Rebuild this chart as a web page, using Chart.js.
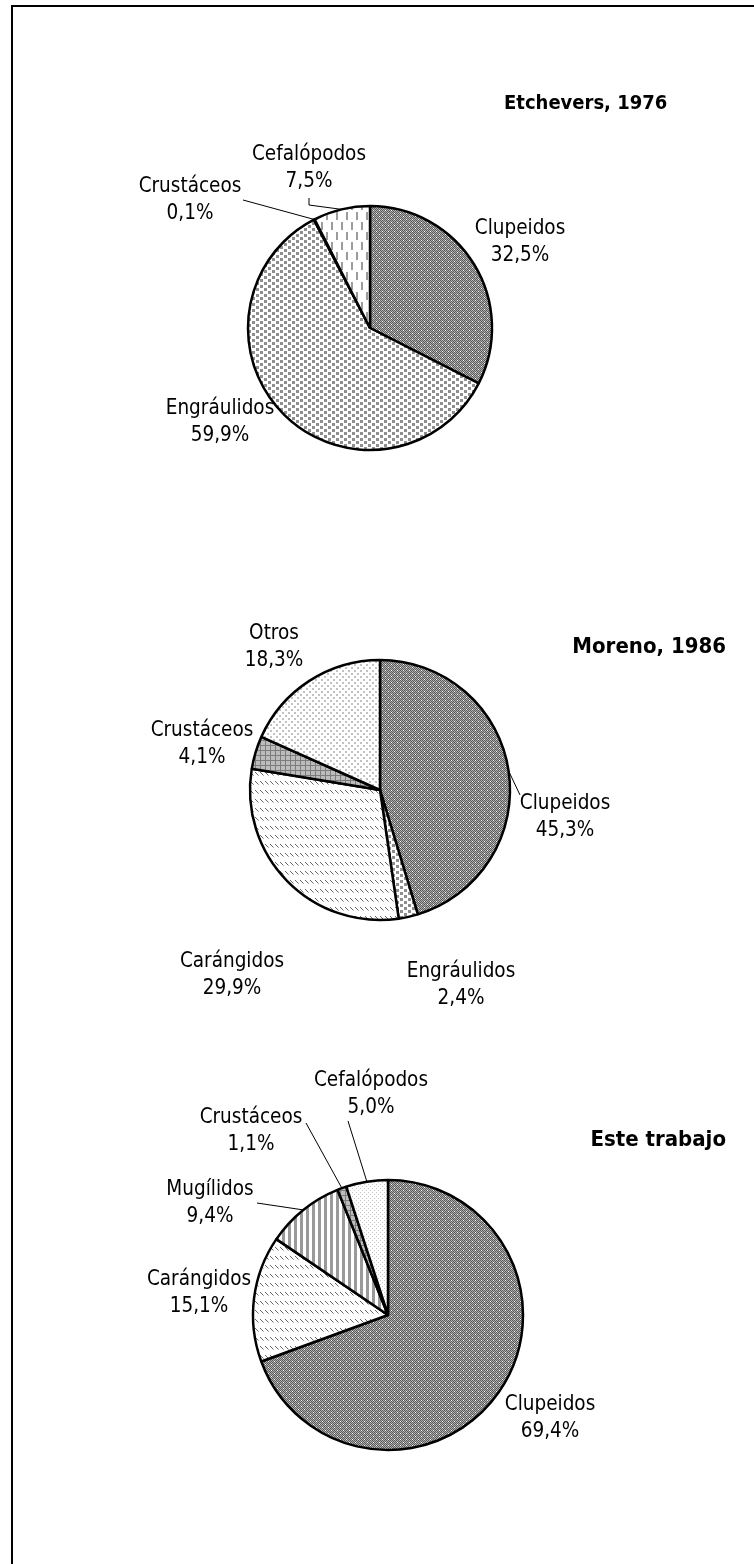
<!DOCTYPE html>
<html lang="es">
<head>
<meta charset="utf-8">
<script src="https://cdn.jsdelivr.net/npm/chart.js@4.4.1/dist/chart.umd.min.js"></script>
<style>
  html, body { margin: 0; padding: 0; background: #fff; }
  #page { position: relative; width: 754px; height: 1564px; overflow: hidden; background: #fff; }
  #frame { position: absolute; left: 11px; top: 5px; width: 900px; height: 1700px;
           border-top: 2px solid #000; border-left: 2px solid #000; }
  canvas { position: absolute; left: 0; }
</style>
</head>
<body>
<div id="page">
  <div id="frame"></div>
  <canvas id="pie1" width="754" height="520" style="top:0px"></canvas>
  <canvas id="pie2" width="754" height="520" style="top:520px"></canvas>
  <canvas id="pie3" width="754" height="524" style="top:1040px"></canvas>
</div>
<script>
// diet composition, % by group
const etcheversLabels = ["Clupeidos", "Engráulidos", "Crustáceos", "Cefalópodos"];
const etcheversValues = [32.5, 59.9, 0.1, 7.5];

const morenoLabels = ["Clupeidos", "Engráulidos", "Carángidos", "Crustáceos", "Otros"];
const morenoValues = [45.3, 2.4, 29.9, 4.1, 18.3];

const esteLabels = ["Clupeidos", "Carángidos", "Mugílidos", "Crustáceos", "Cefalópodos"];
const esteValues = [69.4, 15.1, 9.4, 1.1, 5.0];

const titles = ["Etchevers, 1976", "Moreno, 1986", "Este trabajo"];

const FONT = "'DejaVu Sans Condensed', 'DejaVu Sans', sans-serif";

// ---- hatch fills ----
function tile(w, h, draw) {
  const c = document.createElement("canvas");
  c.width = w;
  c.height = h;
  const g = c.getContext("2d");
  g.fillStyle = "#fff";
  g.fillRect(0, 0, w, h);
  draw(g);
  return g.createPattern(c, "repeat");
}
function dot(g, color, x, y, w = 1, h = 1) {
  g.fillStyle = color;
  g.fillRect(x, y, w, h);
}

const fills = {
  checker: tile(6, 6, (g) => {
    for (let y = 0; y < 6; y++)
      for (let x = 0; x < 6; x++)
        dot(g, (x + y) % 2 === 0 ? "#5a5a5a" : "#b0b0b0", x, y);
    dot(g, "#fff", 1, 0);
    dot(g, "#fff", 4, 3);
  }),
  squares: tile(8, 6, (g) => {
    dot(g, "#8e8e8e", 0, 0, 3, 3);
    dot(g, "#8e8e8e", 4, 3, 3, 3);
  }),
  dashes: tile(10, 20, (g) => {
    dot(g, "#9c9c9c", 1, 2, 2, 8);
    dot(g, "#9c9c9c", 6, 12, 2, 8);
  }),
  lightDots: tile(6, 6, (g) => {
    dot(g, "#c2c2c2", 0, 0, 2, 2);
    dot(g, "#c2c2c2", 3, 3, 2, 2);
  }),
  fineDots: tile(4, 4, (g) => {
    dot(g, "#c8c8c8", 0, 0);
    dot(g, "#c8c8c8", 2, 2);
  }),
  grid: tile(5, 5, (g) => {
    dot(g, "#bcbcbc", 0, 0, 5, 5);
    dot(g, "#7c7c7c", 0, 0, 5, 1);
    dot(g, "#7c7c7c", 0, 0, 1, 5);
  }),
  diag: tile(5, 9, (g) => {
    dot(g, "#666", 0, 0);
    dot(g, "#666", 1, 1);
    dot(g, "#666", 2, 2);
    dot(g, "#aaa", 3, 3);
  }),
  stripes: tile(6, 1, (g) => {
    dot(g, "#9a9a9a", 0, 0, 3, 1);
  }),
};

// label block centres and leader bends, relative to each pie centre
const etcheversStyle = {
  cx: 370, cy: 328, r: 122,
  fills: [fills.checker, fills.squares, fills.grid, fills.dashes],
  labels: [[150, -86], [-150, 94], [-180, -128], [-61, -160]],
  leaders: [null, null, [[-127, -128]], [[-61, -123], [-61, -130]]],
  title: { text: titles[0], x: 504, y: 104, size: 20, align: "left" },
};
const morenoStyle = {
  cx: 380, cy: 270, r: 130,
  fills: [fills.checker, fills.squares, fills.diag, fills.grid, fills.lightDots],
  labels: [[185, 27], [81, 195], [-148, 185], [-178, -46], [-106, -143]],
  leaders: [[[140, 5]], null, null, null, null],
  title: { text: titles[1], x: 726, y: 127, size: 22, align: "right" },
};
const esteStyle = {
  cx: 388, cy: 275, r: 135,
  fills: [fills.checker, fills.diag, fills.stripes, fills.grid, fills.fineDots],
  labels: [[162, 103], [-189, -22], [-178, -112], [-137, -184], [-17, -221]],
  leaders: [null, null, [[-131, -112]], [[-82, -192]], [[-40, -194]]],
  title: { text: titles[2], x: 726, y: 100, size: 22, align: "right" },
};

function pctText(v) {
  return v.toFixed(1).replace(".", ",") + "%";
}

const calloutPlugin = {
  id: "callouts",
  afterDatasetsDraw(chart, args, opts) {
    const ctx = chart.ctx;
    const arcs = chart.getDatasetMeta(0).data;
    const values = chart.data.datasets[0].data;
    ctx.save();
    arcs.forEach((arc, i) => {
      const { x, y, startAngle, endAngle, outerRadius } = arc.getProps(
        ["x", "y", "startAngle", "endAngle", "outerRadius"], true);
      const mid = (startAngle + endAngle) / 2;
      const ex = x + Math.cos(mid) * outerRadius;
      const ey = y + Math.sin(mid) * outerRadius;

      const bends = opts.leaders[i];
      if (bends) {
        ctx.strokeStyle = "#000";
        ctx.lineWidth = 1;
        ctx.beginPath();
        ctx.moveTo(ex, ey);
        bends.forEach(([dx, dy]) => ctx.lineTo(x + dx, y + dy));
        ctx.stroke();
      }

      const [lx, ly] = opts.labels[i];
      ctx.fillStyle = "#000";
      ctx.font = "20.5px " + FONT;
      ctx.textAlign = "center";
      ctx.textBaseline = "middle";
      ctx.fillText(chart.data.labels[i], x + lx, y + ly - 13.5);
      ctx.fillText(pctText(values[i]), x + lx, y + ly + 13.5);
    });

    const t = opts.title;
    ctx.font = "bold " + t.size + "px " + FONT;
    ctx.textAlign = t.align;
    ctx.textBaseline = "middle";
    ctx.fillText(t.text, t.x, t.y);
    ctx.restore();
  },
};

function drawPie(id, labels, values, style) {
  const canvas = document.getElementById(id);
  const W = canvas.width;
  const H = canvas.height;
  const half = style.r + 1.25;
  return new Chart(canvas.getContext("2d"), {
    type: "pie",
    data: {
      labels,
      datasets: [
        {
          data: values,
          backgroundColor: style.fills,
          borderColor: "#000",
          borderWidth: 2.5,
        },
      ],
    },
    options: {
      responsive: false,
      animation: false,
      devicePixelRatio: 1,
      layout: {
        padding: {
          left: style.cx - half,
          right: W - style.cx - half,
          top: style.cy - half,
          bottom: H - style.cy - half,
        },
      },
      plugins: {
        legend: { display: false },
        tooltip: { enabled: false },
        callouts: style,
      },
    },
    plugins: [calloutPlugin],
  });
}

drawPie("pie1", etcheversLabels, etcheversValues, etcheversStyle);
drawPie("pie2", morenoLabels, morenoValues, morenoStyle);
drawPie("pie3", esteLabels, esteValues, esteStyle);
</script>
</body>
</html>
